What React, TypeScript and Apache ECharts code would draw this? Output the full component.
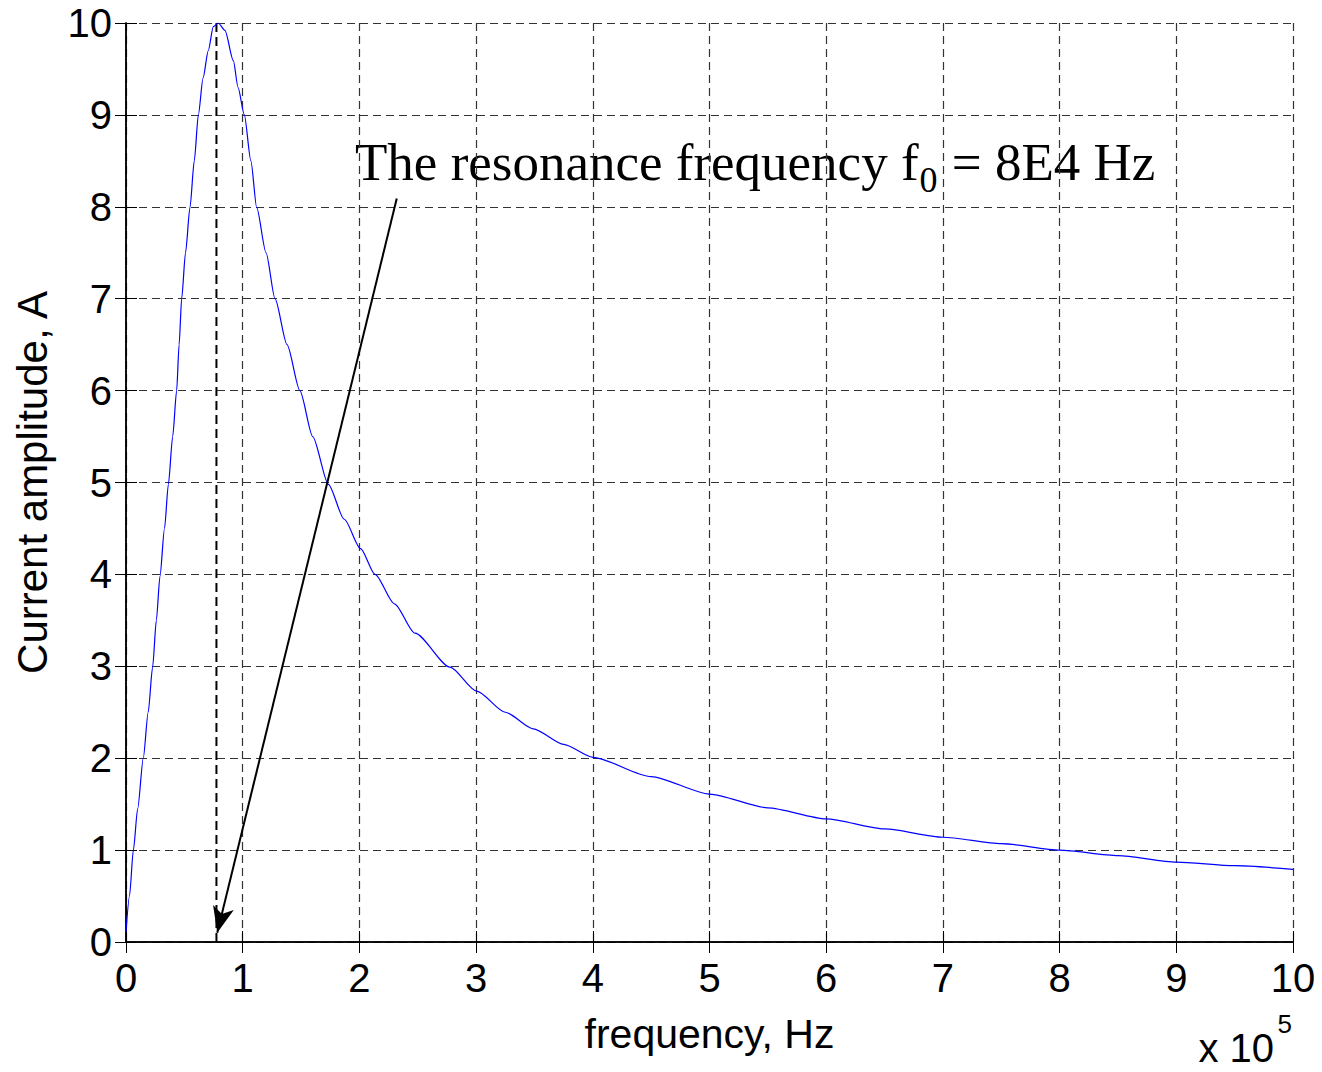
import React, { useEffect, useRef } from "react";
import * as echarts from "echarts";

// frequency in units of 1e5 Hz
const frequency = [
  0, 0.03, 0.063, 0.1, 0.148, 0.19, 0.228, 0.26, 0.291, 0.33, 0.363, 0.4, 0.434, 0.455, 0.477,
  0.51, 0.548, 0.585, 0.62, 0.66, 0.705, 0.748, 0.79, 0.848, 0.92, 0.96, 1.014, 1.07, 1.12,
  1.2, 1.277, 1.38, 1.49, 1.6, 1.734, 1.87, 2.01, 2.134, 2.3, 2.476, 2.776, 3.005, 3.25, 3.49,
  3.75, 4.0, 4.5, 5.0, 5.5, 6.0, 6.5, 7.0, 7.5, 8.0, 8.5, 9.0, 9.5, 10.0,
];
// current amplitude, A
const amplitude = [
  0.11, 0.5, 1.0, 1.45, 2.0, 2.5, 2.99, 3.5, 3.98, 4.5, 4.98, 5.5, 6.0, 6.5, 7.0,
  7.5, 7.99, 8.5, 9.0, 9.4, 9.7, 9.96, 10.0, 9.92, 9.59, 9.3, 9.0, 8.5, 7.99,
  7.5, 7.0, 6.5, 6.0, 5.5, 4.98, 4.6, 4.28, 4.0, 3.68, 3.36, 2.99, 2.73, 2.5, 2.32,
  2.15, 2.01, 1.8, 1.61, 1.46, 1.34, 1.23, 1.14, 1.07, 1.0, 0.94, 0.87, 0.83, 0.79,
];
const xTicks = [0, 10, 1];
const yTicks = [0, 10, 1];
const resonanceX = 0.775;
const arrowFrom = [2.32, 8.09];
const arrowTo = [0.782, 0.1];

const SANS = "'Liberation Sans', Arial, sans-serif";
const SERIF = "'Liberation Serif', 'Times New Roman', serif";

function measure(text: string, font: string): number {
  const c = document.createElement("canvas").getContext("2d");
  if (!c) return text.length * 20;
  c.font = font;
  return c.measureText(text).width;
}

export default function App() {
  const ref = useRef<HTMLDivElement>(null);
  useEffect(() => {
    if (!ref.current) return;
    const chart = echarts.init(ref.current, undefined, { renderer: "svg" });
    const t1 = "The resonance frequency f";
    const t3 = " = 8E4 Hz";
    const mainFont = `53px ${SERIF}`;
    const w1 = measure(t1, mainFont);
    const w2 = measure("0", `36px ${SERIF}`);
    const textX = 355;
    const base = 180;
    const axisCommon = {
      type: "value" as const,
      min: xTicks[0],
      max: xTicks[1],
      interval: xTicks[2],
      axisLine: { show: true, lineStyle: { color: "#000", width: 1.5 } },
      axisTick: { show: true, inside: true, length: 11, lineStyle: { color: "#000", width: 1 } },
    };
    chart.setOption({
      animation: false,
      backgroundColor: "#fff",
      grid: { left: 126, top: 23, right: 29, bottom: 130, containLabel: false },
      xAxis: [
        {
          ...axisCommon,
          position: "bottom",
          name: "frequency, Hz",
          nameLocation: "middle",
          nameGap: 71,
          nameTextStyle: { fontSize: 41, fontFamily: SANS, color: "#000" },
          axisLabel: { fontSize: 40, fontFamily: SANS, color: "#000", margin: 16 },
          splitLine: { show: true, lineStyle: { color: "#333", width: 1.2, type: [8, 5] } },
        },
        {
          ...axisCommon,
          position: "top",
          axisLabel: { show: false },
          splitLine: { show: false },
        },
      ],
      yAxis: [
        {
          ...axisCommon,
          min: yTicks[0],
          max: yTicks[1],
          interval: yTicks[2],
          position: "left",
          name: "Current amplitude, A",
          nameLocation: "middle",
          nameGap: 73,
          nameTextStyle: { fontSize: 42, fontFamily: SANS, color: "#000" },
          axisLabel: { fontSize: 40, fontFamily: SANS, color: "#000", margin: 14 },
          splitLine: { show: true, lineStyle: { color: "#333", width: 1.2, type: [8, 5] } },
        },
        {
          ...axisCommon,
          min: yTicks[0],
          max: yTicks[1],
          interval: yTicks[2],
          position: "right",
          axisLabel: { show: false },
          splitLine: { show: false },
        },
      ],
      series: [
        {
          type: "line",
          xAxisIndex: 0,
          yAxisIndex: 0,
          data: frequency.map((f, i) => [f, amplitude[i]]),
          showSymbol: false,
          smooth: 0.25,
          smoothMonotone: "x",
          lineStyle: { color: "#0000ff", width: 1.2 },
          z: 3,
        },
        {
          type: "line",
          xAxisIndex: 0,
          yAxisIndex: 0,
          data: [
            [resonanceX, 0],
            [resonanceX, 10],
          ],
          showSymbol: false,
          lineStyle: { color: "#000", width: 2, type: [9, 5] },
          z: 2,
        },
        {
          type: "line",
          xAxisIndex: 0,
          yAxisIndex: 0,
          data: [],
          markLine: {
            silent: true,
            animation: false,
            label: { show: false },
            symbol: ["none", "arrow"],
            symbolSize: [16, 26],
            data: [[{ coord: arrowFrom }, { coord: arrowTo }]],
            lineStyle: { color: "#000", width: 2, type: "solid" },
          },
        },
      ],
      graphic: [
        {
          type: "text",
          left: textX,
          top: base - 0.3375 * 53 - 26.5,
          style: { text: t1, font: mainFont, fill: "#000" },
        },
        {
          type: "text",
          left: textX + w1 + 1,
          top: base + 12 - 0.3375 * 36 - 18,
          style: { text: "0", font: `36px ${SERIF}`, fill: "#000" },
        },
        {
          type: "text",
          left: textX + w1 + w2 + 2,
          top: base - 0.3375 * 53 - 26.5,
          style: { text: t3, font: mainFont, fill: "#000" },
        },
        {
          type: "text",
          right: 48,
          bottom: 4,
          style: { text: "x 10", font: `40px ${SANS}`, fill: "#000" },
        },
        {
          type: "text",
          right: 30,
          top: 1033 - 0.3465 * 26 - 13,
          style: { text: "5", font: `26px ${SANS}`, fill: "#000" },
        },
      ],
    });
    return () => chart.dispose();
  }, []);
  return (
    <div
      ref={ref}
      style={{ position: "absolute", left: 0, top: 0, width: 1322, height: 1072, background: "#fff" }}
    />
  );
}
